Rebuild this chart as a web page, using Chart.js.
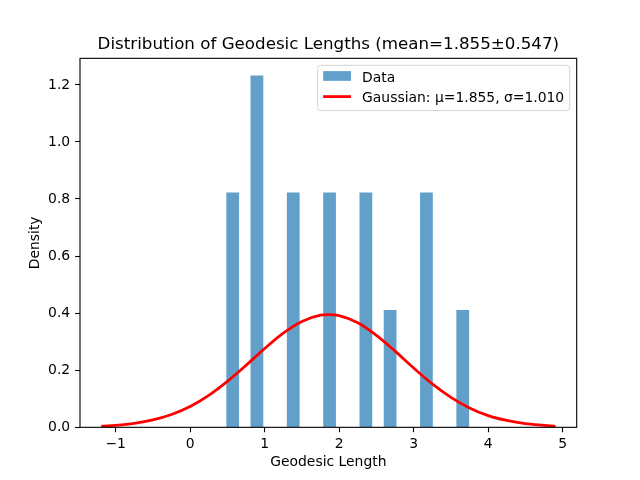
<!DOCTYPE html>
<html>
<head>
<meta charset="utf-8">
<style>
  html, body { margin: 0; padding: 0; background: #fff; }
  #c { display: block; }
</style>
<script src="https://cdn.jsdelivr.net/npm/chart.js@4.4.0/dist/chart.umd.min.js"></script>
</head>
<body>
<canvas id="c" width="640" height="480"></canvas>
<script>
// ---- data ----
const chartTitle = 'Distribution of Geodesic Lengths (mean=1.855±0.547)';
const xTitle = 'Geodesic Length';
const yTitle = 'Density';
const seriesLabels = ['Data', 'Gaussian: μ=1.855, σ=1.010'];

// histogram bin edges (20 bins)
const binEdges = [0.49, 0.6525, 0.815, 0.9775, 1.14, 1.3025, 1.465, 1.6275, 1.79, 1.9525, 2.115,
                  2.2775, 2.44, 2.6025, 2.765, 2.9275, 3.09, 3.2525, 3.415, 3.5775, 3.74];
// density per bin
const binDensity = [0.821, 0, 1.231, 0, 0, 0.821, 0, 0, 0.821, 0, 0, 0.821, 0, 0.410, 0, 0, 0.821, 0, 0, 0.410];

// gaussian curve samples
const curveX = [-1.175, -1.0, -0.75, -0.5, -0.25, 0, 0.25, 0.5, 0.75, 1.0, 1.25, 1.5, 1.75, 1.855,
                2.0, 2.25, 2.5, 2.75, 3.0, 3.25, 3.5, 3.75, 4.0, 4.25, 4.5, 4.75, 4.885];
const curveY = [0.004, 0.007, 0.014, 0.026, 0.045, 0.073, 0.112, 0.161, 0.217, 0.276, 0.330, 0.371, 0.393, 0.395,
                0.391, 0.366, 0.322, 0.267, 0.208, 0.152, 0.105, 0.068, 0.041, 0.024, 0.013, 0.007, 0.004];

const xTicks = [-1, 0, 1, 2, 3, 4, 5];
const yTicks = [0, 0.2, 0.4, 0.6, 0.8, 1.0, 1.2];
const xRange = [-1.478, 5.188];
const yRange = [0, 1.2923];

// ---- build chart ----
const FS = 13.9;
Chart.defaults.font.family = '"DejaVu Sans", sans-serif';
Chart.defaults.font.size = FS;
Chart.defaults.color = '#000';

const barData = binDensity.map((d, i) => ({ x: (binEdges[i] + binEdges[i + 1]) / 2, y: d }));
const lineData = curveX.map((x, i) => ({ x: x, y: curveY[i] }));

const framePlugin = {
  id: 'frame',
  afterDatasetsDraw(chart) {
    const { ctx, chartArea: a } = chart;
    ctx.save();
    ctx.strokeStyle = '#000';
    ctx.lineWidth = 1.1;
    ctx.strokeRect(a.left, a.top, a.right - a.left, a.bottom - a.top);
    ctx.restore();
  }
};

const legendPlugin = {
  id: 'mplLegend',
  afterDraw(chart) {
    const { ctx, chartArea: a } = chart;
    const ds = chart.data.datasets;
    ctx.save();
    ctx.font = FS + 'px "DejaVu Sans"';
    const textW = Math.max(...ds.map(d => ctx.measureText(d.label).width));
    const pad = 0.4 * FS, hl = 2 * FS, htp = 0.8 * FS, rowH = 20.6;
    const w = pad + hl + htp + textW + pad;
    const h = 45.3;
    const right = a.right - 0.5 * FS;
    const top = a.top + 0.5 * FS;
    const left = right - w;
    const r = 0.2 * FS;
    ctx.beginPath();
    ctx.moveTo(left + r, top);
    ctx.lineTo(right - r, top);
    ctx.arcTo(right, top, right, top + r, r);
    ctx.lineTo(right, top + h - r);
    ctx.arcTo(right, top + h, right - r, top + h, r);
    ctx.lineTo(left + r, top + h);
    ctx.arcTo(left, top + h, left, top + h - r, r);
    ctx.lineTo(left, top + r);
    ctx.arcTo(left, top, left + r, top, r);
    ctx.closePath();
    ctx.fillStyle = 'rgba(255,255,255,0.8)';
    ctx.fill();
    ctx.strokeStyle = 'rgba(204,204,204,0.8)';
    ctx.lineWidth = 1;
    ctx.stroke();
    ds.forEach((d, i) => {
      const cy = top + 10.7 + i * rowH;
      const hx = left + pad;
      if (d.type === 'bar') {
        ctx.fillStyle = d.backgroundColor;
        ctx.fillRect(hx, cy - 0.35 * FS, hl, 0.7 * FS);
      } else {
        ctx.strokeStyle = d.borderColor;
        ctx.lineWidth = d.borderWidth;
        ctx.lineCap = 'butt';
        ctx.beginPath();
        ctx.moveTo(hx, cy);
        ctx.lineTo(hx + hl, cy);
        ctx.stroke();
      }
      ctx.fillStyle = '#000';
      ctx.textBaseline = 'alphabetic';
      ctx.textAlign = 'left';
      ctx.fillText(d.label, hx + hl + htp, top + 16.25 + i * rowH);
    });
    ctx.restore();
  }
};

new Chart(document.getElementById('c'), {
  type: 'bar',
  data: {
    datasets: [
      {
        type: 'bar',
        label: seriesLabels[0],
        data: barData,
        backgroundColor: 'rgba(31,119,180,0.7)',
        borderWidth: 0,
        barPercentage: 1,
        categoryPercentage: 1,
        order: 2
      },
      {
        type: 'line',
        label: seriesLabels[1],
        data: lineData,
        borderColor: '#ff0000',
        borderWidth: 2.78,
        pointRadius: 0,
        fill: false,
        cubicInterpolationMode: 'monotone',
        borderCapStyle: 'square',
        borderJoinStyle: 'round',
        order: 1
      }
    ]
  },
  options: {
    responsive: false,
    animation: false,
    events: [],
    layout: { padding: { left: 0, right: 63.3, top: 0, bottom: 9.07 } },
    plugins: {
      legend: { display: false },
      tooltip: { enabled: false },
      title: {
        display: true,
        text: chartTitle,
        fullSize: false,
        color: '#000',
        font: { size: 16.7, weight: 'normal' },
        padding: { top: 34.5, bottom: 3.8 }
      }
    },
    scales: {
      x: {
        type: 'linear',
        min: xRange[0],
        max: xRange[1],
        offset: false,
        grid: { display: true, offset: false, drawOnChartArea: false, drawTicks: true,
                tickLength: 4.9, tickWidth: 1.1, tickColor: '#000' },
        border: { display: false },
        ticks: {
          padding: 3.5,
          color: '#000',
          maxRotation: 0,
          autoSkip: false,
          callback: v => (v < 0 ? '\u2212' + Math.abs(v) : String(v))
        },
        afterBuildTicks: s => { s.ticks = xTicks.map(v => ({ value: v })); },
        afterFit: s => { s.height = 43.6; },
        title: { display: true, text: xTitle, color: '#000', font: { size: FS }, padding: { top: 0, bottom: 0 } }
      },
      y: {
        type: 'linear',
        min: yRange[0],
        max: yRange[1],
        grid: { display: true, drawOnChartArea: false, drawTicks: true,
                tickLength: 4.9, tickWidth: 1.1, tickColor: '#000' },
        border: { display: false },
        ticks: {
          padding: 4.9,
          color: '#000',
          autoSkip: false,
          labelOffset: 0.5,
          callback: v => v.toFixed(1)
        },
        afterBuildTicks: s => { s.ticks = yTicks.map(v => ({ value: v })); },
        afterFit: s => { s.width = 80; },
        title: { display: true, text: yTitle, color: '#000', font: { size: FS }, padding: { top: 26.9, bottom: 0 } }
      }
    }
  },
  plugins: [framePlugin, legendPlugin]
});
</script>
</body>
</html>
